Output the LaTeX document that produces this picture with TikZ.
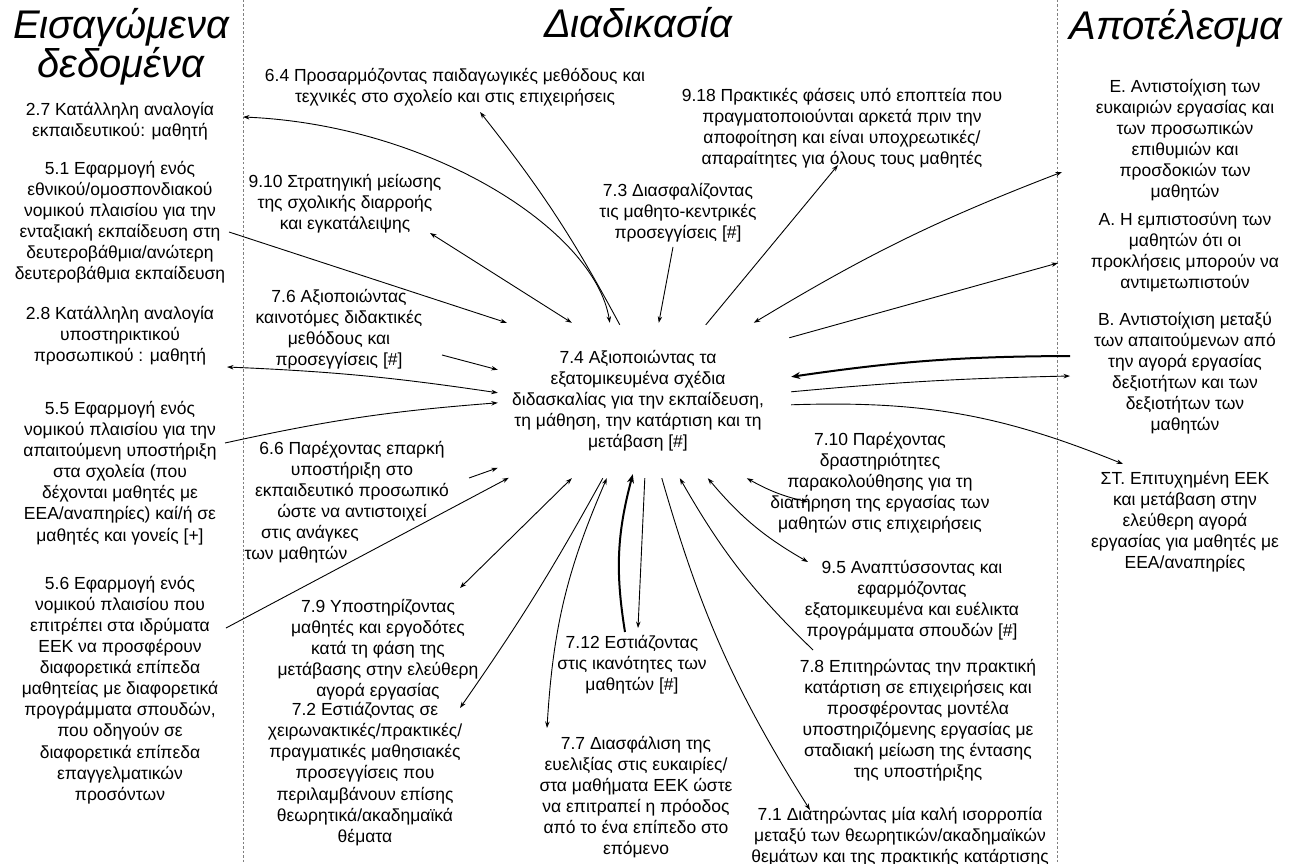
\documentclass[tikz,border=0pt]{standalone}
\usepackage{fontspec}
\setmainfont{Liberation Sans}
\usetikzlibrary{arrows.meta,calc}
\tikzset{
  txt/.style={align=center, inner sep=0pt, font=\fontsize{17.5}{21.1}\selectfont},
  ttl/.style={align=center, inner sep=0pt, font=\fontsize{40}{37}\selectfont\itshape},
  con/.style={line width=0.9pt, -{Stealth[length=6.5pt,width=4.5pt]}},
  bicon/.style={line width=0.9pt, {Stealth[length=6.5pt,width=4.5pt]}-{Stealth[length=6.5pt,width=4.5pt]}},
  thickcon/.style={line width=2pt, -{Stealth[length=9pt,width=7pt]}},
  sep/.style={gray, line width=0.8pt, dash pattern=on 2.5pt off 2pt}
}
\begin{document}
\begin{tikzpicture}[x=1pt,y=-1pt]
\useasboundingbox (0,0) rectangle (1298,864);
% separators
\coordinate (s1t) at (243,0); \coordinate (s1b) at (243,864);
\coordinate (s2t) at (1057,0); \coordinate (s2b) at (1057,864);
\draw[sep] (s1t) -- (s1b);
\draw[sep] (s2t) -- (s2b);
% titles
\node[ttl] (tin) at (121,47) {Εισαγώμενα\\δεδομένα};
\node[ttl] (tproc) at (638,23) {Διαδικασία};
\node[ttl] (tout) at (1176,28) {Αποτέλεσμα};
% left column
\node[txt] (n27) at (120,121) {2.7 Κατάλληλη αναλογία\\εκπαιδευτικού: μαθητή};
\node[txt] (n51) at (120,222) {5.1 Εφαρμογή ενός\\εθνικού/ομοσπονδιακού\\νομικού πλαισίου για την\\ενταξιακή εκπαίδευση στη\\δευτεροβάθμια/ανώτερη\\δευτεροβάθμια εκπαίδευση};
\node[txt] (n28) at (120,336) {2.8 Κατάλληλη αναλογία\\υποστηρικτικού\\προσωπικού : μαθητή};
\node[txt] (n55) at (120,473) {5.5 Εφαρμογή ενός\\νομικού πλαισίου για την\\απαιτούμενη υποστήριξη\\στα σχολεία (που\\δέχονται μαθητές με\\ΕΕΑ/αναπηρίες) καί/ή σε\\μαθητές και γονείς [+]};
\node[txt] (n56) at (120,690) {5.6 Εφαρμογή ενός\\νομικού πλαισίου που\\επιτρέπει στα ιδρύματα\\ΕΕΚ να προσφέρουν\\διαφορετικά επίπεδα\\μαθητείας με διαφορετικά\\προγράμματα σπουδών,\\που οδηγούν σε\\διαφορετικά επίπεδα\\επαγγελματικών\\προσόντων};
% middle column
\node[txt] (n64) at (455,87) {6.4 Προσαρμόζοντας παιδαγωγικές μεθόδους και\\τεχνικές στο σχολείο και στις επιχειρήσεις};
\node[txt] (n910) at (345,204) {9.10 Στρατηγική μείωσης\\της σχολικής διαρροής\\και εγκατάλειψης};
\node[txt] (n73) at (678,213) {7.3 Διασφαλίζοντας\\τις μαθητο-κεντρικές\\προσεγγίσεις [\#]};
\node[txt] (n918) at (842,128) {9.18 Πρακτικές φάσεις υπό εποπτεία που\\πραγματοποιούνται αρκετά πριν την\\αποφοίτηση και είναι υποχρεωτικές/\\απαραίτητες για όλους τους μαθητές};
\node[txt] (n76) at (339,329) {7.6 Αξιοποιώντας\\καινοτόμες διδακτικές\\μεθόδους και\\προσεγγίσεις [\#]};
\node[txt, minimum width=306pt, minimum height=155pt] (ctr) at (638,400.5) {7.4 Αξιοποιώντας τα\\εξατομικευμένα σχέδια\\διδασκαλίας για την εκπαίδευση,\\τη μάθηση, την κατάρτιση και τη\\μετάβαση [\#]};
\node[txt] (n66) at (352,502) {6.6 Παρέχοντας επαρκή\\υποστήριξη στο\\εκπαιδευτικό προσωπικό\\ώστε να αντιστοιχεί\\στις ανάγκες\hspace*{84pt}\mbox{}\\των μαθητών\hspace*{112pt}\mbox{}};
\node[txt] (n710) at (880,483) {7.10 Παρέχοντας\\δραστηριότητες\\παρακολούθησης για τη\\διατήρηση της εργασίας των\\μαθητών στις επιχειρήσεις};
\node[txt] (n95) at (912,600) {9.5 Αναπτύσσοντας και\\εφαρμόζοντας\\εξατομικευμένα και ευέλικτα\\προγράμματα σπουδών [\#]};
\node[txt] (n78) at (918,720) {7.8 Επιτηρώντας την πρακτική\\κατάρτιση σε επιχειρήσεις και\\προσφέροντας μοντέλα\\υποστηριζόμενης εργασίας με\\σταδιακή μείωση της έντασης\\της υποστήριξης};
\node[txt] (n71) at (900,837) {7.1 Διατηρώντας μία καλή ισορροπία\\μεταξύ των θεωρητικών/ακαδημαϊκών\\θεμάτων και της πρακτικής κατάρτισης};
\node[txt] (n79) at (378,650) {7.9 Υποστηρίζοντας\\μαθητές και εργοδότες\\κατά τη φάση της\\μετάβασης στην ελεύθερη\\αγορά εργασίας};
\node[txt] (n72) at (365,774) {7.2 Εστιάζοντας σε\\χειρωνακτικές/πρακτικές/\\πραγματικές μαθησιακές\\προσεγγίσεις που\\περιλαμβάνουν επίσης\\θεωρητικά/ακαδημαϊκά\\θέματα};
\node[txt] (n712) at (632,665) {7.12 Εστιάζοντας\\στις ικανότητες των\\μαθητών [\#]};
\node[txt] (n77) at (636,797) {7.7 Διασφάλιση της\\ευελιξίας στις ευκαιρίες/\\στα μαθήματα ΕΕΚ ώστε\\να επιτραπεί η πρόοδος\\από το ένα επίπεδο στο\\επόμενο};
% right column
\node[txt] (nE) at (1185,140) {Ε. Αντιστοίχιση των\\ευκαιριών εργασίας και\\των προσωπικών\\επιθυμιών και\\προσδοκιών των\\μαθητών};
\node[txt] (nA) at (1185,252) {Α. Η εμπιστοσύνη των\\μαθητών ότι οι\\προκλήσεις μπορούν να\\αντιμετωπιστούν};
\node[txt] (nB) at (1185,373) {Β. Αντιστοίχιση μεταξύ\\των απαιτούμενων από\\την αγορά εργασίας\\δεξιοτήτων και των\\δεξιοτήτων των\\μαθητών};
\node[txt] (nST) at (1185,522) {ΣΤ. Επιτυχημένη ΕΕΚ\\και μετάβαση στην\\ελεύθερη αγορά\\εργασίας για μαθητές με\\ΕΕΑ/αναπηρίες};
% connectors - top
\draw[bicon] ($(n27.center)+(123,-4)$) .. controls +(187,8) and +(-15,-93) .. ($(ctr.north west)+(125,0)$);
\draw[con] ($(n51.center)+(109,10)$) -- ($(ctr.north west)+(22,0)$);
\draw[bicon] ($(n910.center)+(85,29)$) -- ($(ctr.north west)+(87,0)$);
\draw[con] ($(ctr.north west)+(135,2)$) to[bend right=5] ($(n64.center)+(25,25)$);
\draw[con] ($(n73.center)+(-5,34)$) -- ($(ctr.north west)+(174,0)$);
\draw[con] ($(ctr.north west)+(221,2)$) -- ($(n918.center)+(-4,37)$);
\draw[bicon] ($(ctr.north west)+(269,0)$) to[bend left=5] ($(nE.center)+(-123,32)$);
\draw[con] ($(ctr.north east)+(-2,15)$) -- ($(nA.center)+(-127,11)$);
% right
\draw[thickcon] ($(nB.center)+(-115,-17)$) to[bend right=4] ($(ctr.north east)+(0,54)$);
\draw[con] ($(ctr.north east)+(0,69)$) to[bend left=2] ($(nB.center)+(-115,3)$);
\draw[con] ($(ctr.north east)+(0,82)$) to[bend left=12] ($(nST.center)+(-62,-58)$);
% bottom
\draw[bicon] ($(ctr.south west)+(262,0)$) to[bend right=8] ($(n710.center)+(-72,19)$);
\draw[bicon] ($(ctr.south west)+(223,0)$) to[bend right=10] ($(n95.center)+(-104,-38)$);
\draw[con] ($(n78.center)+(-105,-70)$) to[bend left=8] ($(ctr.south west)+(195,0)$);
\draw[con] ($(ctr.south west)+(177,0)$) to[bend right=8] ($(n71.center)+(-90,-27)$);
\draw[con] ($(ctr.south west)+(160,0)$) -- ($(n712.center)+(6,-37)$);
\draw[thickcon] ($(n712.center)+(-7,-33)$) to[bend left=12] ($(ctr.south west)+(148,-4)$);
\draw[bicon] ($(ctr.south west)+(122,0)$) to[bend right=10] ($(n77.center)+(-89,-69)$);
\draw[con] ($(ctr.south west)+(118,0)$) to[bend left=3] ($(n72.center)+(95,-66)$);
\draw[bicon] ($(ctr.south west)+(87,0)$) -- ($(n79.center)+(82,-62)$);
% left
\draw[con] ($(n56.center)+(106,-62)$) -- ($(ctr.north west)+(24,155)$);
\draw[con] ($(n66.center)+(117,-24)$) -- ($(ctr.north west)+(13,145)$);
\draw[con] ($(n55.center)+(105,-30)$) to[bend left=4] ($(ctr.north west)+(13,80)$);
\draw[bicon] ($(n28.center)+(107,31)$) to[bend left=3] ($(ctr.north west)+(13,70)$);
\draw[con] ($(n76.center)+(103,26)$) -- ($(ctr.north west)+(13,47)$);
\end{tikzpicture}
\end{document}
